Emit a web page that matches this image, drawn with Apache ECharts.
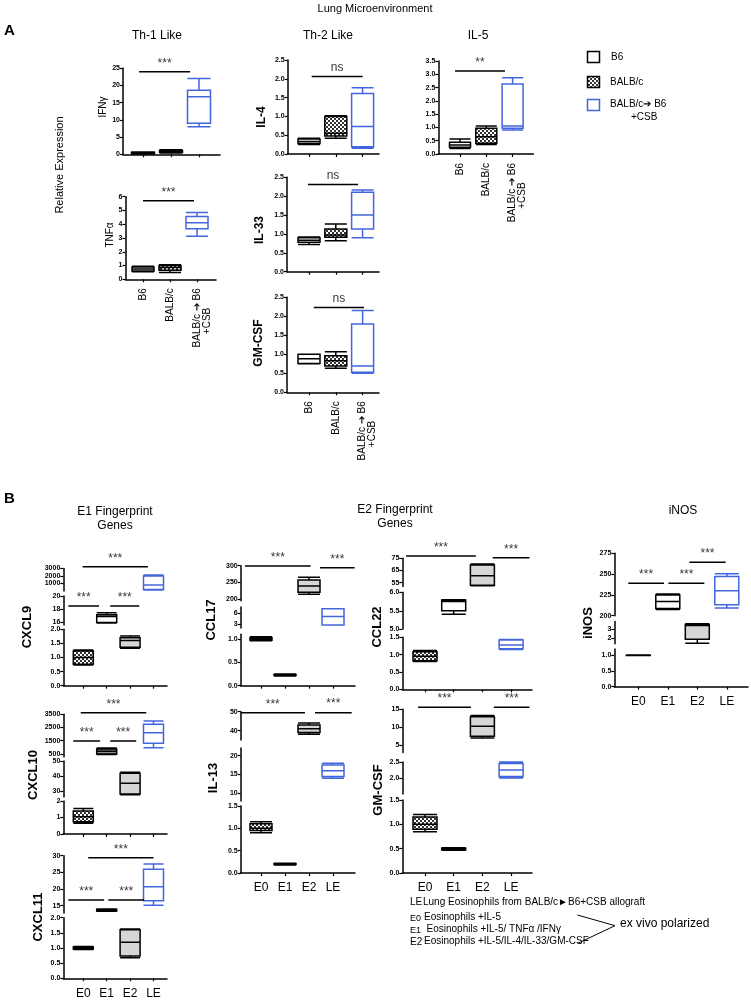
<!DOCTYPE html>
<html>
<head>
<meta charset="utf-8">
<script src="https://cdn.jsdelivr.net/npm/echarts@6.0.0/dist/echarts.min.js"></script>
<style>
html,body{margin:0;padding:0;background:#fff;}
#chart{width:751px;height:1001px;}
</style>
</head>
<body>
<div id="chart"></div>
<script>
// ================= DATA =================
const catsA = ['B6', 'BALB/c', 'BALB/c \u2794 B6\n+CSB'];
const catsB = ['E0', 'E1', 'E2', 'LE'];

// box values: [min, Q1, median, Q3, max]
const ifng   = [[0.1, 0.2, 0.4, 0.6, 0.7], [0.4, 0.6, 0.8, 1.1, 1.3], [8.0, 9.0, 16.7, 18.6, 22.0]];
const tnfa   = [[0.55, 0.6, 0.75, 0.9, 0.95], [0.5, 0.65, 0.85, 1.0, 1.05], [3.12, 3.67, 4.1, 4.56, 4.85]];
const il4    = [[0.25, 0.28, 0.33, 0.40, 0.42], [0.42, 0.48, 0.55, 1.0, 1.02], [0.15, 0.19, 0.73, 1.61, 1.76]];
const il33   = [[0.72, 0.78, 0.83, 0.9, 0.92], [0.82, 0.91, 0.97, 1.13, 1.26], [0.9, 1.13, 1.5, 2.1, 2.16]];
const gmcsfA = [[0.75, 0.76, 0.88, 1.0, 1.0], [0.63, 0.69, 0.83, 0.96, 1.07], [0.5, 0.53, 0.69, 1.8, 2.15]];
const il5    = [[0.21, 0.25, 0.34, 0.44, 0.56], [0.36, 0.40, 0.65, 0.97, 1.05], [0.9, 0.97, 1.05, 2.63, 2.87]];

const cxcl9  = [[0.73, 0.76, 1.0, 1.23, 1.27], [15.8, 15.9, 16.8, 17.1, 17.4], [1.33, 1.36, 1.6, 1.70, 1.76], [150, 200, 800, 2000, 2150]];
const cxcl10 = [[0.65, 0.75, 1.05, 1.4, 1.55], [450, 500, 700, 880, 950], [27.5, 28, 35.1, 41.8, 42.5], [975, 1308, 2110, 2744, 2993]];
const cxcl11 = [[0.95, 0.97, 1.0, 1.03, 1.05], [13.3, 13.4, 13.6, 13.9, 14.0], [0.68, 0.74, 1.19, 1.6, 1.63], [15.1, 16.5, 20.7, 25.9, 27.5]];
const ccl17  = [[0.96, 0.97, 1.0, 1.03, 1.05], [0.21, 0.22, 0.23, 0.24, 0.25], [214, 220, 239, 257, 265], [2.8, 2.8, 5.1, 7.2, 7.2]];
const il13   = [[0.9, 0.95, 1.0, 1.1, 1.15], [0.18, 0.19, 0.2, 0.21, 0.22], [38, 39, 41, 43, 44], [14, 14.5, 16, 17.5, 18]];
const ccl22  = [[0.8, 0.82, 0.95, 1.08, 1.12], [5.41, 5.5, 5.75, 5.79, 5.8], [52.5, 53, 60.8, 69.5, 70.3], [1.15, 1.17, 1.28, 1.42, 1.44]];
const gmcsfB = [[0.85, 0.9, 1.0, 1.15, 1.2], [0.47, 0.48, 0.5, 0.51, 0.52], [7.0, 7.5, 10.3, 12.9, 13.3], [2.0, 2.05, 2.25, 2.45, 2.5]];
const inos   = [[0.99, 0.995, 1.0, 1.005, 1.01], [207.4, 208.6, 217, 225, 226.2], [1.44, 1.89, 3.37, 3.48, 3.55], [209.3, 213.3, 230, 247.2, 250.4]];

// tick labels, per axis segment (bottom segment first)
const ticksIfng   = [['0', '5', '10', '15', '20', '25']];
const ticksTnfa   = [['0', '1', '2', '3', '4', '5', '6']];
const ticks25     = [['0.0', '0.5', '1.0', '1.5', '2.0', '2.5']];
const ticksIl5    = [['0.0', '0.5', '1.0', '1.5', '2.0', '2.5', '3.0', '3.5']];
const ticksCxcl9  = [['0.0', '0.5', '1.0', '1.5', '2.0'], ['16', '18', '20'], ['1000', '2000', '3000']];
const ticksCxcl10 = [['0', '1', '2'], ['30', '40', '50'], ['500', '1500', '2500', '3500']];
const ticksCxcl11 = [['0.0', '0.5', '1.0', '1.5', '2.0'], ['15', '20', '25', '30']];
const ticksCcl17  = [['0.0', '0.5', '1.0'], ['3', '6'], ['200', '250', '300']];
const ticksIl13   = [['0.0', '0.5', '1.0', '1.5'], ['10', '15', '20'], ['40', '50']];
const ticksCcl22  = [['0.0', '0.5', '1.0', '1.5'], ['5.0', '5.5', '6.0'], ['55', '65', '75']];
const ticksGmcsfB = [['0.0', '0.5', '1.0', '1.5'], ['2.0', '2.5'], ['5', '10', '15']];
const ticksInos   = [['0.0', '0.5', '1.0'], ['2', '3'], ['200', '225', '250', '275']];

// significance bars: [fromGroup, toGroup, value, segment, text]
const sigIfng   = [[-0.14, 1.68, 24.0, 0, '***']];
const sigTnfa   = [[0, 1.89, 5.71, 0, '***']];
const sigIl4    = [[0.1, 2.0, 2.06, 0, 'ns']];
const sigIl33   = [[-0.04, 1.83, 2.31, 0, 'ns']];
const sigGmcsfA = [[0.18, 2.05, 2.23, 0, 'ns']];
const sigIl5    = [[-0.19, 1.71, 3.12, 0, '**']];
const sigCxcl9  = [[-0.03, 2.76, 3240, 2, '***'], [-0.64, 0.67, 18.45, 1, '***'], [1.15, 2.39, 18.45, 1, '***']];
const sigCxcl10 = [[-0.11, 2.69, 3620, 2, '***'], [-0.43, 0.72, 1481, 2, '***'], [1.15, 2.26, 1481, 2, '***']];
const sigCxcl11 = [[0.21, 3.0, 29.4, 1, '***'], [-0.64, 0.89, 16.7, 1, '***'], [1.07, 2.6, 16.7, 1, '***']];
const sigCcl17  = [[-0.67, 2.07, 299, 2, '***'], [2.46, 3.9, 294, 2, '***']];
const sigIl13   = [[-0.85, 1.83, 49.4, 2, '***'], [2.25, 3.78, 49.5, 2, '***']];
const sigCcl22  = [[-0.66, 1.77, 76.9, 2, '***'], [2.36, 3.64, 75.5, 2, '***']];
const sigGmcsfB = [[-0.24, 1.6, 15.6, 2, '***'], [2.4, 3.64, 15.6, 2, '***']];
const sigInos   = [[-0.34, 0.87, 239, 2, '***'], [1.02, 2.24, 239, 2, '***'], [1.73, 2.96, 264.2, 2, '***']];

// ================= STYLE / LAYOUT =================
const FONT = '"Liberation Sans", Arial, Helvetica, sans-serif';
const BLUE = '#4466dd';
function makePattern() {
  const c = document.createElement('canvas');
  c.width = 4; c.height = 4;
  const g = c.getContext('2d');
  g.fillStyle = '#fff'; g.fillRect(0, 0, 4, 4);
  g.fillStyle = '#333'; g.fillRect(0, 0, 2, 2); g.fillRect(2, 2, 2, 2);
  return c;
}
const dots = { image: makePattern(), repeat: 'repeat' };
const stylesA = [
  { color: '#fff', borderColor: '#000' },
  { color: dots, borderColor: '#000' },
  { color: '#fff', borderColor: BLUE }
];
const stylesB = [
  { color: dots, borderColor: '#000' },
  { color: '#fff', borderColor: '#000' },
  { color: '#d6d6d6', borderColor: '#000' },
  { color: '#fff', borderColor: BLUE }
];
const stylesCxcl10 = [stylesB[0], { color: '#8a8a8a', borderColor: '#000' }, stylesB[2], stylesB[3]];

// segs: [min, max, topPx, bottomPx], bottom segment first
const panels = [
  { data: ifng, ticks: ticksIfng, sig: sigIfng, kind: 'A', name: 'IFN\u03B3', nameAt: [103, 107], bold: false, nsize: 10,
    ax: 123, end: 220, c0: 143, step: 28, boxW: 23, segs: [[0, 25, 68.3, 154.3]] },
  { data: tnfa, ticks: ticksTnfa, sig: sigTnfa, kind: 'A', name: 'TNF\u03B1', nameAt: [110, 235], bold: false, nsize: 10,
    ax: 125.5, end: 216, c0: 143, step: 27, boxW: 22, segs: [[0, 6, 196.7, 279.3]], xlab: true },
  { data: il4, ticks: ticks25, sig: sigIl4, kind: 'A', name: 'IL-4', nameAt: [262, 117], bold: true, nsize: 12,
    ax: 287.7, end: 379, c0: 309, step: 26.8, boxW: 22, segs: [[0, 2.5, 60, 154]] },
  { data: il33, ticks: ticks25, sig: sigIl33, kind: 'A', name: 'IL-33', nameAt: [260, 230], bold: true, nsize: 12,
    ax: 287, end: 379, c0: 309, step: 26.8, boxW: 22, segs: [[0, 2.5, 177.2, 271.7]] },
  { data: gmcsfA, ticks: ticks25, sig: sigGmcsfA, kind: 'A', name: 'GM-CSF', nameAt: [259, 343], bold: true, nsize: 12,
    ax: 287, end: 379, c0: 309, step: 26.8, boxW: 22, segs: [[0, 2.5, 297.3, 392.3]], xlab: true },
  { data: il5, ticks: ticksIl5, sig: sigIl5, kind: 'A', name: '',
    ax: 438.3, end: 533.3, c0: 460, step: 26.3, boxW: 21, segs: [[0, 3.5, 61, 154]], xlab: true },

  { data: cxcl9, ticks: ticksCxcl9, sig: sigCxcl9, kind: 'B', name: 'CXCL9', nameAt: [27, 627], bold: true, nsize: 13,
    ax: 63.3, end: 167, c0: 83.3, step: 23.4, boxW: 20, segs: [[0, 2, 629.3, 685.7], [15.5, 20, 596, 625], [0, 3000, 568.5, 591]] },
  { data: cxcl10, ticks: ticksCxcl10, sig: sigCxcl10, kind: 'B', name: 'CXCL10', nameAt: [33, 775], bold: true, nsize: 13, styles: stylesCxcl10,
    ax: 63.3, end: 167, c0: 83.3, step: 23.4, boxW: 20, segs: [[0, 2, 801, 834], [26, 50, 761, 797], [270, 3500, 714.3, 757]] },
  { data: cxcl11, ticks: ticksCxcl11, sig: sigCxcl11, kind: 'B', name: 'CXCL11', nameAt: [38, 917], bold: true, nsize: 13,
    ax: 63.3, end: 167, c0: 83.3, step: 23.4, boxW: 20, segs: [[0, 2, 917.7, 978.3], [12.8, 30, 855.7, 913]], xlab: true },
  { data: ccl17, ticks: ticksCcl17, sig: sigCcl17, kind: 'B', name: 'CCL17', nameAt: [211, 620], bold: true, nsize: 13,
    ax: 240.7, end: 355, c0: 261, step: 24, boxW: 22, segs: [[0, 1.1, 634.3, 685.7], [2, 7.7, 607, 628], [195, 300, 565.7, 600.7]] },
  { data: il13, ticks: ticksIl13, sig: sigIl13, kind: 'B', name: 'IL-13', nameAt: [213, 778], bold: true, nsize: 13,
    ax: 240.7, end: 355, c0: 261, step: 24, boxW: 22, segs: [[0, 1.5, 806, 873], [8, 22, 748, 801], [35, 50, 711.7, 740]], xlab: true },
  { data: ccl22, ticks: ticksCcl22, sig: sigCcl22, kind: 'B', name: 'CCL22', nameAt: [377, 627], bold: true, nsize: 13,
    ax: 402.3, end: 532, c0: 425, step: 28.7, boxW: 24, segs: [[0, 1.5, 637.3, 689.3], [5, 6, 592.3, 629.3], [52, 75, 558.3, 586.4]] },
  { data: gmcsfB, ticks: ticksGmcsfB, sig: sigGmcsfB, kind: 'B', name: 'GM-CSF', nameAt: [378, 790], bold: true, nsize: 13,
    ax: 402.3, end: 532, c0: 425, step: 28.7, boxW: 24, segs: [[0, 1.5, 800, 873], [1.5, 2.5, 762, 794], [3, 15, 709.3, 752.5]], xlab: true },
  { data: inos, ticks: ticksInos, sig: sigInos, kind: 'B', name: 'iNOS', nameAt: [588, 623], bold: true, nsize: 13,
    ax: 614.3, end: 748, c0: 638.3, step: 29.5, boxW: 24, segs: [[0, 1.2, 649, 686.7], [1.4, 3.8, 621.5, 643.7], [200, 275, 553.3, 615.7]], xlab: true }
];

// ================= BUILD =================
const grids = [], xAxes = [], yAxes = [], series = [], graphics = [];

function txt(x, y, text, o) {
  o = o || {};
  return {
    type: 'text', x: x, y: y, rotation: o.rot || 0, silent: true, z: 10,
    style: {
      text: text, fill: o.color || '#000', fontSize: o.size || 10,
      fontWeight: o.bold ? 'bold' : 'normal', fontFamily: FONT,
      align: o.align || 'center', verticalAlign: o.va || 'middle',
      textAlign: o.align || 'center', textVerticalAlign: o.va || 'middle',
      lineHeight: o.lh || undefined
    }
  };
}

function xLabel(cats, v, kind) {
  const s = cats[Math.round(v)] || '';
  if (kind === 'A' && s.indexOf('\n') >= 0) {
    const parts = s.split('\n');
    return '\n' + parts[0] + '\n' + parts[1] + '       ';
  }
  return s;
}

panels.forEach(function (p) {
  const n = p.data.length;
  const xmin = -(p.c0 - p.ax) / p.step;
  const xmax = (n - 1) + (p.end - p.c0 - (n - 1) * p.step) / p.step;
  const idx = p.data.map(function (_, i) { return i; });
  const cats = p.kind === 'A' ? catsA : catsB;
  const styleSet = p.styles || (p.kind === 'A' ? stylesA : stylesB);
  const segGrid = [];
  p.segs.forEach(function (s, si) {
    const gi = grids.length;
    segGrid.push(gi);
    grids.push({ left: p.ax, top: s[2], width: p.end - p.ax, height: s[3] - s[2], outerBoundsMode: 'none', containLabel: false });
    const isBottom = si === 0;
    xAxes.push({
      gridIndex: gi, type: 'value', min: xmin, max: xmax,
      axisLine: { show: isBottom, onZero: false, lineStyle: { color: '#000', width: 1.5 } },
      axisTick: { show: isBottom, customValues: idx, length: 3, lineStyle: { color: '#000', width: 1.2 } },
      axisLabel: {
        show: isBottom && !!p.xlab, customValues: idx,
        formatter: function (v) { return xLabel(cats, v, p.kind); },
        rotate: p.kind === 'A' ? 90 : 0, fontSize: p.kind === 'A' ? 10 : 12,
        margin: 9, color: '#000', fontFamily: FONT
      },
      splitLine: { show: false }
    });
    const labels = p.ticks[si];
    const vals = labels.map(Number);
    yAxes.push({
      gridIndex: gi, type: 'value', min: s[0], max: s[1],
      axisLine: { show: true, onZero: false, lineStyle: { color: '#000', width: 1.5 } },
      axisTick: { show: true, customValues: vals, length: 3, lineStyle: { color: '#000', width: 1.2 } },
      axisLabel: {
        customValues: vals,
        formatter: function (v) {
          const k = vals.findIndex(function (t) { return Math.abs(t - v) < 1e-9; });
          return k >= 0 ? labels[k] : '';
        },
        fontSize: 7, fontWeight: 'bold', color: '#000', margin: 3, fontFamily: FONT
      },
      splitLine: { show: false }
    });
  });

  const perSeg = p.segs.map(function () { return []; });
  p.data.forEach(function (b, i) {
    let si = p.segs.findIndex(function (s) { return b[2] >= s[0] && b[2] <= s[1]; });
    if (si < 0) si = 0;
    perSeg[si].push({ value: [i].concat(b), itemStyle: Object.assign({ borderWidth: 1.5 }, styleSet[i]) });
  });
  perSeg.forEach(function (items, si) {
    if (!items.length) return;
    series.push({
      type: 'boxplot', xAxisIndex: segGrid[si], yAxisIndex: segGrid[si],
      boxWidth: [p.boxW, p.boxW], data: items, silent: true, z: 3,
      emphasis: { disabled: true }
    });
  });

  p.sig.forEach(function (sg) {
    const gi = segGrid[sg[3]];
    series.push({
      type: 'line', xAxisIndex: gi, yAxisIndex: gi, data: [[sg[0], sg[2]], [sg[1], sg[2]]],
      clip: false, symbol: 'none', silent: true, z: 4,
      lineStyle: { color: '#000', width: 1.5 }
    });
    series.push({
      type: 'scatter', xAxisIndex: gi, yAxisIndex: gi, data: [[(sg[0] + sg[1]) / 2, sg[2]]],
      clip: false, symbolSize: 1, itemStyle: { color: 'rgba(0,0,0,0)' }, silent: true, z: 4,
      label: { show: true, position: 'top', distance: 2, formatter: sg[4],
        fontSize: 12, color: '#000', fontFamily: FONT }
    });
  });

  if (p.name) {
    graphics.push(txt(p.nameAt[0], p.nameAt[1], p.name, { rot: Math.PI / 2, bold: p.bold, size: p.nsize }));
  }
});

// headers
graphics.push(txt(375, 9, 'Lung Microenvironment', { size: 11 }));
graphics.push(txt(4, 31, 'A', { size: 15, bold: true, align: 'left' }));
graphics.push(txt(157, 36, 'Th-1 Like', { size: 12 }));
graphics.push(txt(328, 36, 'Th-2 Like', { size: 12 }));
graphics.push(txt(478, 36, 'IL-5', { size: 12 }));
graphics.push(txt(60, 165, 'Relative Expression', { size: 11, rot: Math.PI / 2 }));
graphics.push(txt(4, 499, 'B', { size: 15, bold: true, align: 'left' }));
graphics.push(txt(115, 519, 'E1 Fingerprint\nGenes', { size: 12, lh: 14 }));
graphics.push(txt(395, 517, 'E2 Fingerprint\nGenes', { size: 12, lh: 14 }));
graphics.push(txt(683, 511, 'iNOS', { size: 12 }));

// legend
graphics.push({ type: 'rect', shape: { x: 587.5, y: 51.5, width: 12, height: 11 }, style: { fill: '#fff', stroke: '#000', lineWidth: 1.5 }, silent: true });
graphics.push(txt(611, 57, 'B6', { align: 'left', size: 10 }));
graphics.push({ type: 'rect', shape: { x: 587.5, y: 76.5, width: 12, height: 11 }, style: { fill: dots, stroke: '#000', lineWidth: 1.5 }, silent: true });
graphics.push(txt(610, 82, 'BALB/c', { align: 'left', size: 10 }));
graphics.push({ type: 'rect', shape: { x: 587.5, y: 99.5, width: 12, height: 11 }, style: { fill: '#fff', stroke: BLUE, lineWidth: 1.5 }, silent: true });
graphics.push(txt(610, 104.5, 'BALB/c\u2794 B6', { align: 'left', size: 10 }));
graphics.push(txt(631, 117.5, '+CSB', { align: 'left', size: 10 }));

// footnote
graphics.push(txt(410, 902, 'LE', { align: 'left', size: 10 }));
graphics.push(txt(423, 902, 'Lung Eosinophils from BALB/c\u25BAB6+CSB allograft', { align: 'left', size: 10 }));
graphics.push(txt(410, 918.5, 'E0', { align: 'left', size: 9 }));
graphics.push(txt(424, 917.5, 'Eosinophils +IL-5', { align: 'left', size: 10 }));
graphics.push(txt(410, 931, 'E1', { align: 'left', size: 9 }));
graphics.push(txt(426.5, 929.5, 'Eosinophils +IL-5/ TNF\u03B1 /IFN\u03B3', { align: 'left', size: 10 }));
graphics.push(txt(410, 942.5, 'E2', { align: 'left', size: 10 }));
graphics.push(txt(424, 941.5, 'Eosinophils +IL-5/IL-4/IL-33/GM-CSF', { align: 'left', size: 10 }));
graphics.push({ type: 'polyline', shape: { points: [[577.5, 915], [615, 925.7], [577.7, 943.3]] }, style: { fill: null, stroke: '#000', lineWidth: 1 }, silent: true });
graphics.push(txt(620, 923.5, 'ex vivo polarized', { align: 'left', size: 12 }));

const chart = echarts.init(document.getElementById('chart'), null, { renderer: 'canvas' });
chart.setOption({
  animation: false,
  textStyle: { fontFamily: FONT },
  tooltip: { show: false },
  grid: grids, xAxis: xAxes, yAxis: yAxes, series: series,
  graphic: { elements: graphics }
});
</script>
</body>
</html>
